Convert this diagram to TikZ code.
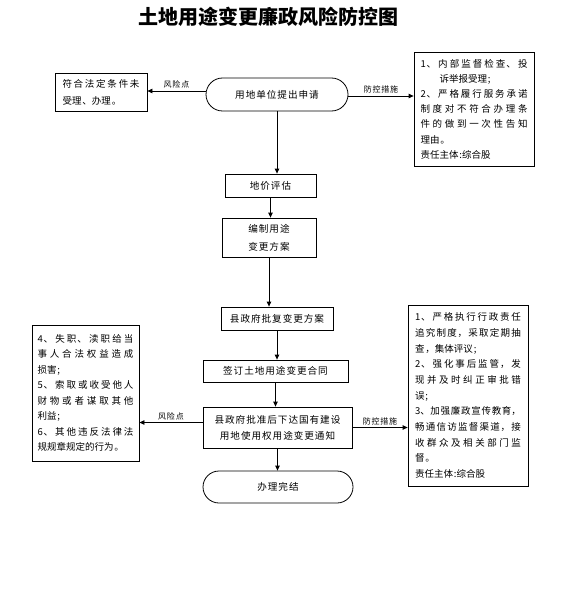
\documentclass[tikz,border=0pt]{standalone}
\usepackage{fontspec}
\setmainfont{Noto Sans CJK SC}[LetterSpace=10]
\newfontfamily\titlefont{Noto Sans CJK SC}
\usetikzlibrary{arrows.meta,shapes.misc}
\XeTeXlinebreaklocale "zh"
\XeTeXlinebreakskip=0pt plus 6pt
\setlength{\parindent}{0pt}
\begin{document}
\begin{tikzpicture}[x=1pt,y=-1pt,
  box/.style={draw, line width=0.8pt, inner sep=0pt, align=center, font=\fontsize{9.6}{16}\selectfont},
  term/.style={draw, rounded rectangle, line width=0.8pt, inner sep=0pt, font=\fontsize{9.6}{16}\selectfont},
  note/.style={draw, line width=0.8pt, align=justify, inner ysep=0pt, font=\fontsize{9.5}{15.5}\selectfont},
  arr/.style={-{Triangle[length=5pt,width=4.5pt]}, line width=0.8pt},
  lab/.style={above, inner sep=2pt, font=\fontsize{8}{9}\selectfont}]
\useasboundingbox (0,0) rectangle (569,604);

\node (title) at (268,17) {\titlefont\fontsize{20}{24}\selectfont\bfseries 土地用途变更廉政风险防控图};

\node[term, minimum width=142pt, minimum height=33pt] (s) at (277,94.5) {用地单位提出申请};

\node[note, text width=77pt, inner xsep=7.5pt, minimum height=38pt, font=\fontsize{9.5}{17}\selectfont] (l1) at (101,92) {符合法定条件未\linebreak
受理、办理。};

\node[note, text width=107pt, inner xsep=6.5pt, minimum height=114pt, font=\fontsize{9.5}{15.2}\selectfont] (r1) at (474,109) {1、\hspace{2pt}内部监督检查、投\linebreak
\hspace*{19pt}诉举报受理;\par
2、严格履行服务承诺\linebreak
制度对不符合办理条\linebreak
件的做到一次性告知\linebreak
理由。\par
责任主体:综合股};

\node[box, minimum width=91pt, minimum height=23pt] (dj) at (270.5,185.5) {地价评估};
\node[box, minimum width=94pt, minimum height=39pt, font=\fontsize{9.6}{18}\selectfont] (bz) at (269,237.5) {编制用途\\变更方案};
\node[box, minimum width=112pt, minimum height=23pt] (pf) at (277,318.5) {县政府批复变更方案};
\node[box, minimum width=145pt, minimum height=22pt] (qd) at (275.5,371) {签订土地用途变更合同};
\node[box, minimum width=149pt, minimum height=41pt] (pz) at (277.5,427.5) {县政府批准后下达国有建设\\用地使用权用途变更通知};
\node[term, minimum width=150pt, minimum height=32pt] (e) at (278,487) {办理完结};

\node[note, text width=96pt, inner xsep=5.5pt, minimum height=136pt] (l2) at (85.5,393) {4、失职、渎职给当\linebreak
事人合法权益造成\linebreak
损害;\par
5、索取或收受他人\linebreak
财物或者谋取其他\linebreak
利益;\par
6、其他违反法律法\linebreak
规规章规定的行为。};

\node[note, text width=106pt, inner xsep=7pt, minimum height=181pt, font=\fontsize{9.5}{15.7}\selectfont] (r2) at (468,395.5) {1、严格执行行政责任\linebreak
追究制度，采取定期抽\linebreak
查，集体评议;\par
2、强化事后监管，发\linebreak
现并及时纠正审批错\linebreak
误;\par
{\addfontfeature{LetterSpace=0}3、加强廉政宣传教育，}\linebreak
畅通信访监督渠道，接\linebreak
收群众及相关部门监\linebreak
督。\par
责任主体:综合股};

\coordinate (sw) at ([yshift=3.5pt]s.west);
\coordinate (se) at ([yshift=-1.5pt]s.east);
\coordinate (pw) at ([yshift=5pt]pz.west);
\draw[arr] (sw) -- (l1.east |- sw) node[lab, midway] {风险点};
\draw[arr] (se) -- (r1.west |- se) node[lab, midway] {防控措施};
\draw[arr] (s.south) -- (s.south |- dj.north);
\draw[arr] (dj.south) -- (dj.south |- bz.north);
\draw[arr] (bz.south) -- (bz.south |- pf.north);
\draw[arr] (pf.south) -- (pf.south |- qd.north);
\draw[arr] (qd.south) -- (qd.south |- pz.north);
\draw[arr] (pz.south) -- (pz.south |- e.north);
\draw[arr] (pw) -- (l2.east |- pw) node[lab, midway] {风险点};
\draw[arr] (pz.east) -- (r2.west |- pz.east) node[lab, midway] {防控措施};
\end{tikzpicture}
\end{document}
